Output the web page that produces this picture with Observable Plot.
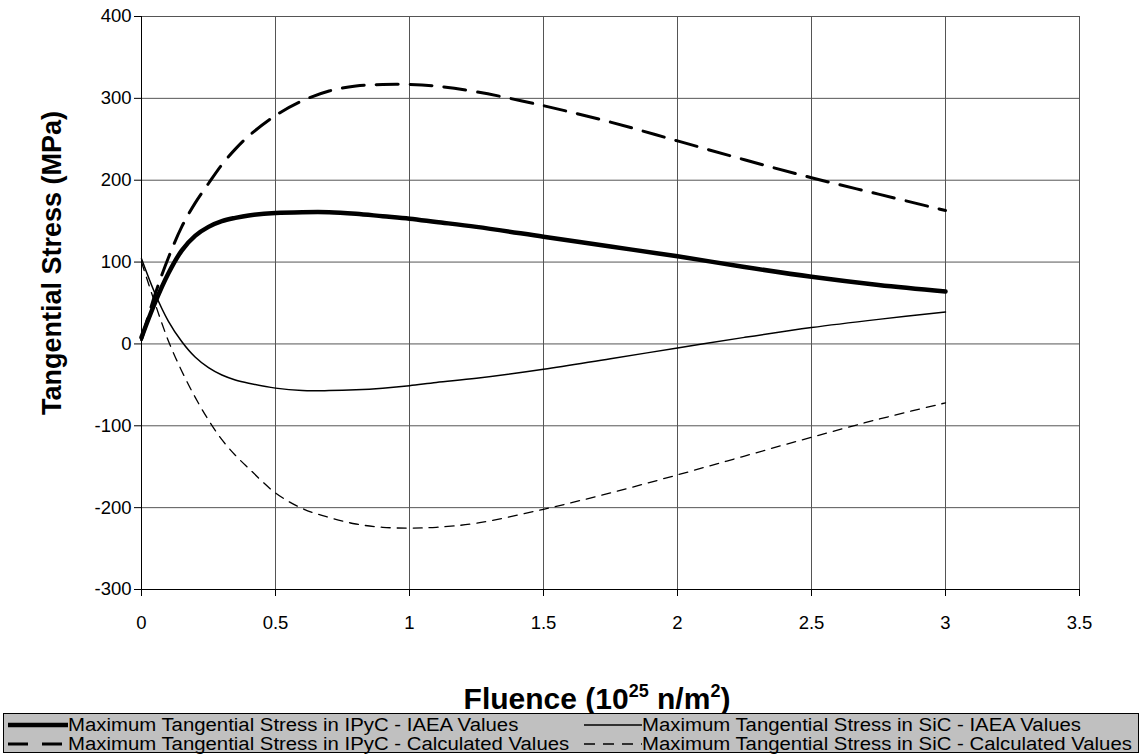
<!DOCTYPE html>
<html>
<head>
<meta charset="utf-8">
<script src="https://cdn.jsdelivr.net/npm/d3@7"></script>
<script src="https://cdn.jsdelivr.net/npm/@observablehq/plot@0.6"></script>
<style>
  html, body { margin: 0; padding: 0; background: #fff; }
  #wrap { position: relative; width: 1144px; height: 754px; overflow: hidden; font-family: "Liberation Sans", Arial, sans-serif; }
  #xlabel { position: absolute; left: 297px; width: 600px; top: 682px; text-align: center; font-weight: bold; font-size: 30px; line-height: 34px; }
  #xlabel sup { font-size: 18px; vertical-align: 12px; line-height: 0; }
  #legend { position: absolute; left: 3px; top: 713px; width: 1134px; height: 38px; background: #c0c0c0; border: 1px solid #000; }
  .item { position: absolute; height: 18px; display: flex; align-items: center; font-size: 18px; line-height: 18px; white-space: nowrap; }
  .item span { display: inline-block; transform: scaleX(1.13); transform-origin: left center; line-height: 18px; }
  .item svg { flex: none; }
</style>
</head>
<body>
<div id="wrap">
  <div id="chart"></div>
  <div id="xlabel">Fluence (10<sup>25</sup> n/m<sup>2</sup>)</div>
  <div id="legend"></div>
</div>
<script>
// ---- data ----
const fluence = [0, 0.05, 0.1, 0.15, 0.2, 0.25, 0.3, 0.35, 0.4, 0.5, 0.6, 0.7, 0.8, 0.9, 1.0, 1.1, 1.25, 1.5, 1.75, 2.0, 2.25, 2.5, 2.75, 3.0];
const ipycIAEA = [8, 50, 86, 114, 132, 143, 150, 154, 157, 160, 161, 161, 159, 156, 153, 149, 143, 131, 119, 107, 94, 82, 72, 64];
const sicIAEA = [104, 62, 28, 3, -16, -29, -38, -44, -48, -54, -57, -57, -56, -54, -51, -47, -42, -31, -18, -5, 8, 20, 30, 39];
const ipycCalc = [5, 60, 105, 143, 172, 196, 219, 238, 254, 279, 297, 309, 315, 317, 317, 315, 308, 291, 271, 248, 225, 203, 183, 163];
const sicCalc = [100, 50, 4, -33, -65, -93, -117, -136, -152, -182, -201, -212, -220, -224, -225, -224, -219, -202, -182, -160, -137, -114, -92, -72];
const xTicks = [0, 0.5, 1, 1.5, 2, 2.5, 3, 3.5];
const yTicks = [-300, -200, -100, 0, 100, 200, 300, 400];
const seriesNames = [
  "Maximum Tangential Stress in IPyC - IAEA Values",
  "Maximum Tangential Stress in SiC - IAEA Values",
  "Maximum Tangential Stress in IPyC - Calculated Values",
  "Maximum Tangential Stress in SiC - Calculated Values"
];
const yTitle = "Tangential Stress (MPa)";

// ---- styles per series ----
const styles = [
  {strokeWidth: 4.5, dash: null, legDash: null},
  {strokeWidth: 1.5, dash: null, legDash: null},
  {strokeWidth: 3, dash: "22,12", legDash: "20,14"},
  {strokeWidth: 1.3, dash: "9,7", legDash: "11,8"}
];
const allY = [ipycIAEA, sicIAEA, ipycCalc, sicCalc];
const tables = allY.map(ys => fluence.map((x, i) => ({x, y: ys[i]})));

const lineMarks = tables.map((t, k) => Plot.line(t, {
  x: "x", y: "y", stroke: "#000", strokeWidth: styles[k].strokeWidth,
  strokeDasharray: styles[k].dash || undefined, curve: "catmull-rom"
}));

const chart = Plot.plot({
  width: 1144, height: 640,
  marginLeft: 141, marginRight: 65, marginTop: 16, marginBottom: 51,
  style: {fontFamily: '"Liberation Sans", Arial, sans-serif', fontSize: "18px", color: "#000", background: "#fff", overflow: "visible"},
  x: {domain: [0, 3.5]},
  y: {domain: [-300, 400]},
  marks: [
    Plot.gridX(xTicks, {stroke: "#555", strokeOpacity: 1}),
    Plot.gridY(yTicks, {stroke: "#555", strokeOpacity: 1}),
    Plot.ruleX([0], {stroke: "#000"}),
    Plot.ruleY([-300], {stroke: "#000"}),
    Plot.axisX({ticks: xTicks, tickSize: 7, tickPadding: 19, label: null, tickFormat: d => String(d), stroke: "#000", fontSize: 18.5}),
    Plot.axisY({ticks: yTicks, tickSize: 7, tickPadding: 3, label: null, tickFormat: d => String(d), stroke: "#000", fontSize: 18.5}),
    ...lineMarks,
    Plot.text([yTitle], {frameAnchor: "left", dx: -89, dy: -40, rotate: -90, textAnchor: "middle", fontSize: 27, fontWeight: "bold", fill: "#000", text: d => d})
  ]
});
document.getElementById("chart").appendChild(chart);

// ---- legend ----
const legend = document.getElementById("legend");
const pos = [
  {left: 2, top: 2},
  {left: 576, top: 2},
  {left: 2, top: 21},
  {left: 576, top: 21}
];
seriesNames.forEach((name, k) => {
  const it = document.createElement("div");
  it.className = "item";
  it.style.left = pos[k].left + "px";
  it.style.top = pos[k].top + "px";
  const s = styles[k];
  it.innerHTML = `<svg width="62" height="18"><line x1="${k % 2 ? 4 : 2}" y1="9" x2="${k === 2 ? 60 : 62}" y2="9" stroke="#000" stroke-width="${s.strokeWidth}" ${s.legDash ? `stroke-dasharray="${s.legDash}"` : ""}/></svg><span>${name}</span>`;
  legend.appendChild(it);
});
</script>
</body>
</html>
